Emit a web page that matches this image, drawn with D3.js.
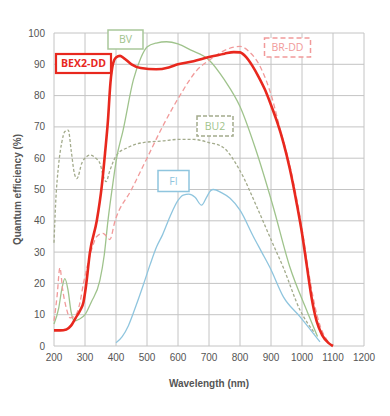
<!DOCTYPE html>
<html>
<head>
<meta charset="utf-8">
<script src="https://cdn.jsdelivr.net/npm/d3@7"></script>
<style>
  body { margin: 0; background: #fff; }
  .grid line { stroke: #c4c4c4; stroke-width: 1; }
  .tick-label { font-family: "Liberation Sans", Arial, sans-serif; font-size: 10px; fill: #555; }
  .axis-title { font-family: "Liberation Sans", Arial, sans-serif; font-size: 10px; font-weight: bold; fill: #555; }
  .tag { font-family: "Open Sans", sans-serif; font-size: 10.5px; }
</style>
</head>
<body>
<div id="chart"></div>
<script>
// wavelength (nm), quantum efficiency (%)
var bex2dd = [[200,5],[220,5],[240,5.3],[255,6.5],[270,9],[285,11.5],[295,14],[303,19],[316,30],[338,40],[354,51],[365,62],[374,72],[382,84],[390,90],[400,92.2],[413,92.7],[425,92],[450,90],[480,88.8],[530,88.4],[570,89],[600,90],[650,91],[700,92.3],[750,93.4],[780,93.9],[800,93.8],[820,92.3],[840,89.5],[860,86],[880,82],[900,77],[920,71.5],[940,65],[961,56.5],[984,45],[1000,36],[1015,26],[1030,16],[1047,8],[1065,3.5],[1085,1],[1100,0]];
var bv = [[200,7],[215,12],[225,18],[235,21.5],[245,18],[255,11],[266,8],[280,8.5],[300,10],[320,14],[348,21],[362,29],[374,40],[390,52],[402,60],[423,69],[456,85],[480,92],[500,95.5],[530,96.8],[563,97.2],[600,96.5],[640,94.6],[700,91.4],[750,85],[800,76.5],[850,63],[907,44.5],[960,25.5],[1015,11.4],[1050,3]];
var bu2 = [[200,33],[205,45],[215,58],[225,65],[235,68.5],[246,69],[256,62],[266,55],[274,53.5],[290,58.5],[305,60.5],[316,61],[335,60],[348,58.4],[360,54],[368,52.5],[380,56],[402,61],[440,63.5],[488,65],[550,65.5],[600,66],[650,66],[700,65],[745,63.5],[800,56],[854,44.5],[900,34],[940,25],[994,11.4],[1042,4]];
var brdd = [[200,8],[210,16],[219,25],[228,18],[240,12],[252,9],[265,9.5],[276,11],[284,14],[295,20],[311,27],[325,32],[338,35],[358,36],[370,35],[380,34],[397,40],[450,50],[500,60],[547,69.5],[606,80],[660,88],[703,91.5],[735,93.6],[780,95.5],[800,95.7],[830,94],[865,89.3],[902,79.7],[929,69.5],[960,58],[985,46],[1000,37.5],[1020,24.5],[1040,13.5],[1060,6],[1080,2],[1097,0]];
var fi = [[400,1],[420,3],[440,6.5],[465,13],[488,19.5],[510,26],[531,31.7],[550,35.5],[574,41.3],[600,46.5],[617,48.2],[635,48.5],[655,47.5],[676,45],[692,47.5],[705,49.6],[714,50],[740,49],[768,47.2],[800,43.4],[843,35],[870,30],[897,25],[940,15.7],[994,9.3],[1058,1.3]];

var xTicks = [200,300,400,500,600,700,800,900,1000,1100,1200];
var yTicks = [0,10,20,30,40,50,60,70,80,90,100];

var width = 390, height = 416;
var margin = {left: 54, right: 26, top: 33, bottom: 70};

var svg = d3.select("#chart").append("svg")
    .attr("width", width)
    .attr("height", height);

var x = d3.scaleLinear().domain([200, 1200]).range([margin.left, width - margin.right]);
var y = d3.scaleLinear().domain([0, 100]).range([height - margin.bottom, margin.top]);

// grid
var grid = svg.append("g").attr("class", "grid");
grid.selectAll("line.v").data(xTicks).enter().append("line")
    .attr("x1", d => x(d)).attr("x2", d => x(d))
    .attr("y1", y(0)).attr("y2", y(100));
grid.selectAll("line.h").data(yTicks).enter().append("line")
    .attr("x1", x(200)).attr("x2", x(1200))
    .attr("y1", d => y(d)).attr("y2", d => y(d));

// tick labels
svg.selectAll("text.xt").data(xTicks).enter().append("text")
    .attr("class", "tick-label")
    .attr("x", d => x(d)).attr("y", y(0) + 15)
    .attr("text-anchor", "middle")
    .text(d => d);
svg.selectAll("text.yt").data(yTicks).enter().append("text")
    .attr("class", "tick-label")
    .attr("x", x(200) - 9).attr("y", d => y(d) + 3.5)
    .attr("text-anchor", "end")
    .text(d => d);

svg.append("text").attr("class", "axis-title")
    .attr("x", x(700)).attr("y", y(0) + 41)
    .attr("text-anchor", "middle")
    .text("Wavelength (nm)");
svg.append("text").attr("class", "axis-title")
    .attr("transform", "translate(21," + y(50) + ") rotate(-90)")
    .attr("text-anchor", "middle")
    .text("Quantum efficiency (%)");

var line = d3.line()
    .x(d => x(d[0]))
    .y(d => y(d[1]))
    .curve(d3.curveMonotoneX);

function draw(data, color, w, dash) {
  svg.append("path")
      .datum(data)
      .attr("fill", "none")
      .attr("stroke", color)
      .attr("stroke-width", w)
      .attr("stroke-dasharray", dash || null)
      .attr("stroke-linejoin", "round")
      .attr("d", line);
}

draw(bu2, "#a3ab8c", 1.3, "3,2");
draw(bv, "#9fc38c", 1.3);
draw(fi, "#8fc5de", 1.3);
draw(brdd, "#f19a9a", 1.3, "5,3");
draw(bex2dd, "#e8281e", 2.6);

// series tags
function tag(label, cx, cy, w, h, color, border, opts) {
  opts = opts || {};
  svg.append("rect")
      .attr("x", cx - w / 2).attr("y", cy - h / 2)
      .attr("width", w).attr("height", h)
      .attr("fill", "#fff")
      .attr("stroke", border)
      .attr("stroke-width", opts.sw || 1.5)
      .attr("stroke-dasharray", opts.dash || null);
  svg.append("text").attr("class", "tag")
      .attr("x", cx).attr("y", cy + 3.8)
      .attr("text-anchor", "middle")
      .attr("fill", color)
      .attr("font-weight", opts.bold ? "bold" : null)
      .text(label);
}

tag("BV", 125.5, 39.5, 35, 19, "#9fc38c", "#a9c79a");
tag("BEX2-DD", 83.5, 63.5, 55, 19, "#e8281e", "#e8281e", {bold: true, sw: 2.2});
tag("BR-DD", 287.5, 47.5, 46, 19, "#f19a9a", "#f19a9a", {dash: "5,3"});
tag("BU2", 215, 126, 36, 20, "#9fc38c", "#a3ab8c", {dash: "4,2"});
tag("FI", 173.5, 181, 31, 21, "#8fc5de", "#8fc5de");
</script>
</body>
</html>
